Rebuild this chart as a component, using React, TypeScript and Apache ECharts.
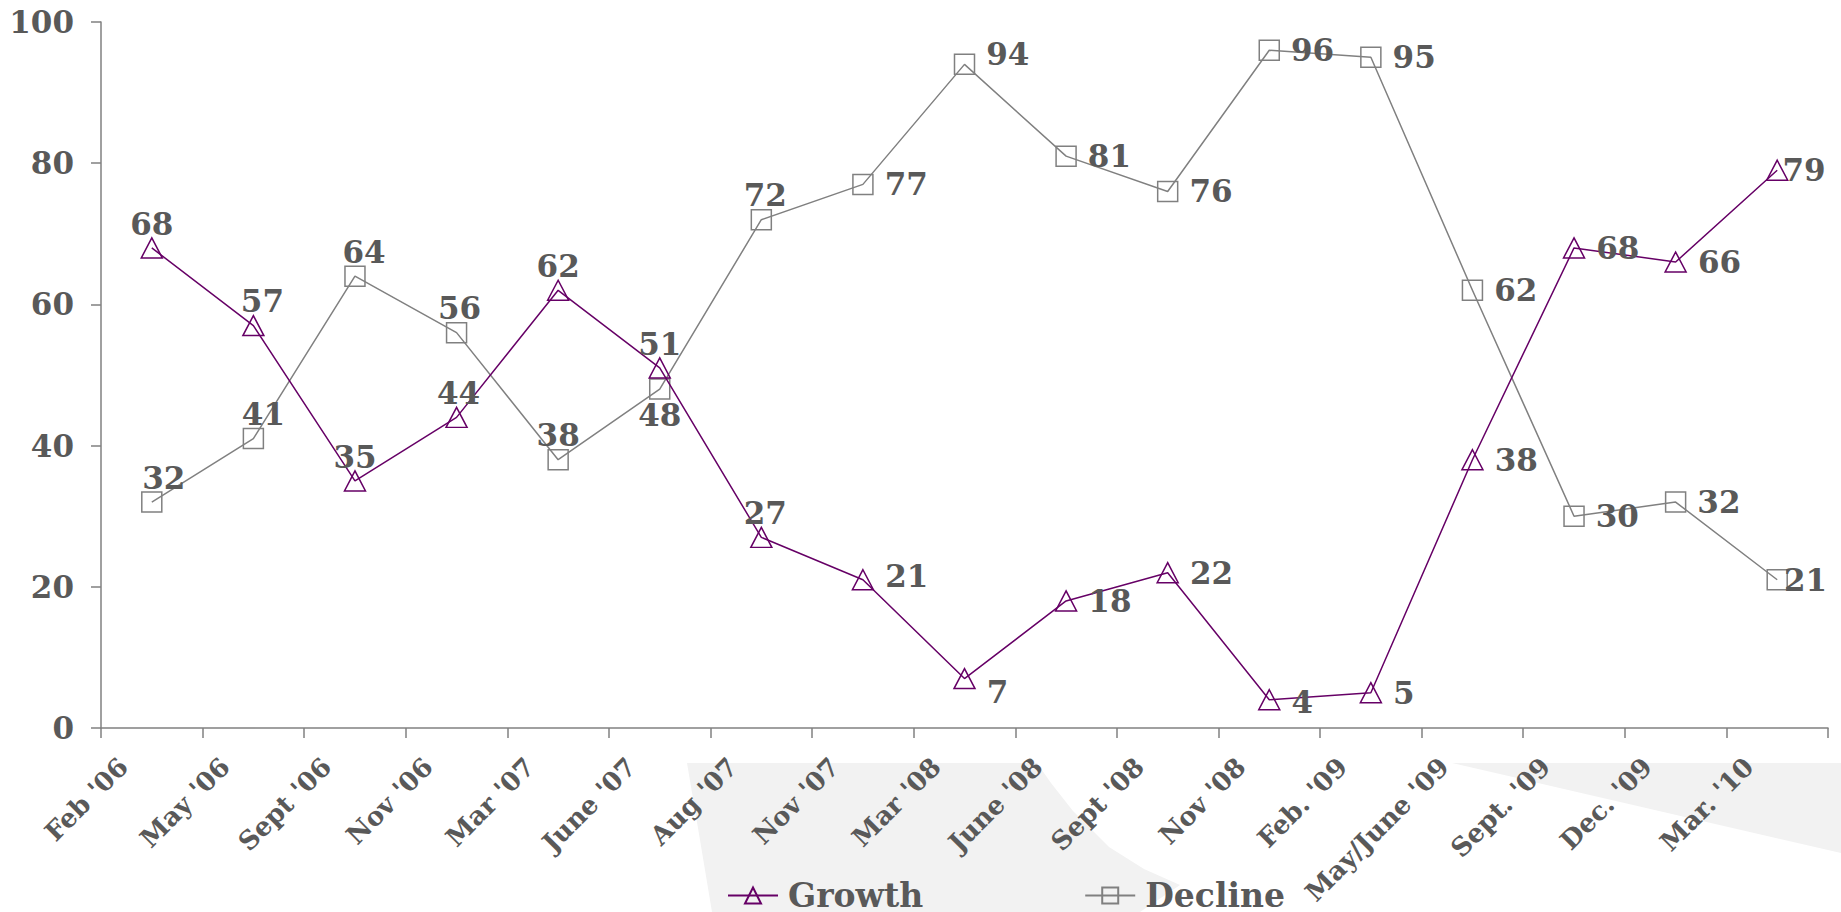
import React, { useEffect, useRef } from "react";
import * as echarts from "echarts";

const categories = [
  "Feb '06", "May '06", "Sept '06", "Nov '06", "Mar '07", "June '07", "Aug '07", "Nov '07",
  "Mar '08", "June '08", "Sept '08", "Nov '08", "Feb. '09", "May/June '09", "Sept. '09", "Dec. '09", "Mar. '10",
];
const growth = [68, 57, 35, 44, 62, 51, 27, 21, 7, 18, 22, 4, 5, 38, 68, 66, 79];
const decline = [32, 41, 64, 56, 38, 48, 72, 77, 94, 81, 76, 96, 95, 62, 30, 32, 21];
const yTicks = [0, 20, 40, 60, 80, 100];

// label layout (not data)
const growthLabelPos = ["top", "top", "top", "top", "top", "top", "top", "right", "right", "right", "right", "right", "right", "right", "right", "right", "right"];
const growthLabelOffset = [[0, 0], [9, 0], [0, 0], [2, 0], [0, 0], [0, 0], [4, 0], [0, -4], [0, 13], [0, 0], [0, 0], [0, 2], [0, 0], [0, 0], [0, 0], [0, 0], [-17, 0]];
const declineLabelPos = ["top", "top", "top", "top", "top", "bottom", "top", "right", "right", "right", "right", "right", "right", "right", "right", "right", "right"];
const declineLabelOffset = [[12, 0], [10, 0], [9, 0], [3, 0], [0, 0], [0, 0], [4, 0], [0, 0], [0, -10], [0, 0], [0, 0], [0, 0], [0, 0], [0, 0], [0, 0], [0, 0], [-15, 0]];
const labelDistance: Record<string, number> = { top: -2, right: 11, bottom: 0 };

const TEXT = "#595959";
const FONT = "'DejaVu Serif', serif";
const PURPLE = "#660066";
const GRAY = "#808080";

function buildData(values: number[], pos: string[], off: number[][]) {
  return values.map((v, i) => ({
    value: v,
    label: { position: pos[i], offset: off[i], distance: labelDistance[pos[i]] },
  }));
}

export default function App() {
  const ref = useRef<HTMLDivElement>(null);
  useEffect(() => {
    if (!ref.current) return;
    const chart = echarts.init(ref.current, null, { renderer: "svg" });
    const labelBase = {
      show: true,
      color: TEXT,
      fontFamily: FONT,
      fontWeight: "bold",
      fontSize: 31,
    };
    chart.setOption({
      animation: false,
      backgroundColor: "#ffffff",
      graphic: [
        {
          type: "polygon",
          z: -10,
          silent: true,
          shape: {
            points: [
              [687, 763], [1037, 763], [1051, 783], [1073, 811], [1109, 847], [1144, 869], [1180, 885],
              [1140, 912], [712, 912], [700, 840],
            ],
          },
          style: { fill: "#f2f2f2" },
        },
        {
          type: "polygon",
          z: -10,
          silent: true,
          shape: { points: [[1452, 763], [1841, 763], [1841, 853]] },
          style: { fill: "#f2f2f2" },
        },
      ],
      grid: { left: 101, right: 13, top: 22, bottom: 184, containLabel: false, outerBoundsMode: "none" },
      legend: {
        left: 722,
        top: 874,
        itemWidth: 50,
        itemHeight: 20,
        itemGap: 161,
        textStyle: { color: TEXT, fontFamily: FONT, fontWeight: "bold", fontSize: 33, padding: [0, 0, 0, 5] },
        data: ["Growth", "Decline"],
      },
      xAxis: {
        type: "category",
        data: categories,
        boundaryGap: true,
        axisLine: { lineStyle: { color: GRAY, width: 1.5 } },
        axisTick: { show: true, length: 10, lineStyle: { color: GRAY, width: 1.5 } },
        axisLabel: {
          rotate: 45,
          interval: 0,
          margin: 6,
          padding: [0, 40, 0, 0],
          color: TEXT,
          fontFamily: FONT,
          fontWeight: "bold",
          fontSize: 26,
        },
      },
      yAxis: {
        type: "value",
        min: yTicks[0],
        max: yTicks[yTicks.length - 1],
        interval: 20,
        splitLine: { show: false },
        axisLine: { show: true, lineStyle: { color: GRAY, width: 1.5 } },
        axisTick: { show: true, length: 10, lineStyle: { color: GRAY, width: 1.5 } },
        axisLabel: { margin: 27, color: TEXT, fontFamily: FONT, fontWeight: "bold", fontSize: 31 },
      },
      series: [
        {
          name: "Growth",
          type: "line",
          data: buildData(growth, growthLabelPos, growthLabelOffset),
          symbol: "triangle",
          symbolSize: [21, 20],
          showAllSymbol: true,
          lineStyle: { color: PURPLE, width: 1.5 },
          itemStyle: { color: "transparent", borderColor: PURPLE, borderWidth: 1.5 },
          label: { ...labelBase },
          z: 3,
        },
        {
          name: "Decline",
          type: "line",
          data: buildData(decline, declineLabelPos, declineLabelOffset),
          symbol: "rect",
          symbolSize: 20,
          showAllSymbol: true,
          lineStyle: { color: GRAY, width: 1.5 },
          itemStyle: { color: "transparent", borderColor: GRAY, borderWidth: 1.5 },
          label: { ...labelBase },
          z: 2,
        },
      ],
    });
    return () => chart.dispose();
  }, []);
  return <div ref={ref} style={{ position: "absolute", left: 0, top: 0, width: 1841, height: 912 }} />;
}
